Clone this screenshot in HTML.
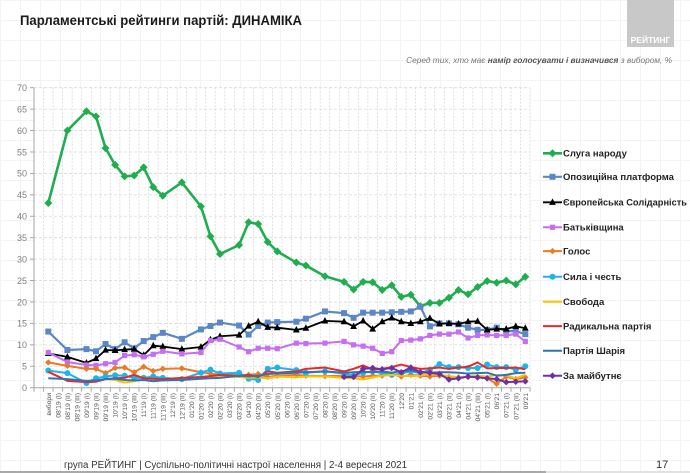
<!DOCTYPE html>
<html><head><meta charset="utf-8">
<style>
html,body{margin:0;padding:0;background:#fff;}
body{width:690px;height:473px;overflow:hidden;}
svg{display:block;font-family:"Liberation Sans","DejaVu Sans",sans-serif;}
</style></head>
<body>
<svg id="s" width="690" height="473" viewBox="0 0 690 473" xmlns="http://www.w3.org/2000/svg">
<rect x="0" y="0" width="690" height="473" fill="#fff"/>
<g id="bggrid"></g>
<!-- logo -->
<rect x="627" y="0" width="47" height="47" fill="#c8c8c8"/>
<text x="650.5" y="43" font-size="8.5" font-weight="bold" fill="#fff" text-anchor="middle">РЕЙТИНГ</text>
<!-- title -->
<text x="20" y="25" font-size="14" font-weight="bold" fill="#1a1a1a" textLength="282" lengthAdjust="spacingAndGlyphs">Парламентські рейтинги партій: ДИНАМІКА</text>
<text x="672" y="63" font-size="8.3" font-style="italic" fill="#777" text-anchor="end">Серед тих, хто має <tspan font-weight="bold" fill="#555">намір голосувати і визначився</tspan> з вибором, %</text>

<g id="grid"></g>
<g id="axes"></g>
<g id="series"></g>

<!-- y labels -->
<g font-size="9" fill="#7f7f7f" text-anchor="end">
<text x="27" y="391">0</text>
<text x="27" y="369.6">5</text>
<text x="27" y="348.2">10</text>
<text x="27" y="326.7">15</text>
<text x="27" y="305.3">20</text>
<text x="27" y="283.9">25</text>
<text x="27" y="262.4">30</text>
<text x="27" y="241">35</text>
<text x="27" y="219.6">40</text>
<text x="27" y="198.2">45</text>
<text x="27" y="176.7">50</text>
<text x="27" y="155.3">55</text>
<text x="27" y="133.9">60</text>
<text x="27" y="112.4">65</text>
<text x="27" y="91">70</text>
</g>

<!-- x labels -->
<g font-size="6.8" fill="#555" text-anchor="end">
<text transform="translate(50.8,393) rotate(-90)">вибори</text>
<text transform="translate(60.3,393) rotate(-90)">08'19 (I)</text>
<text transform="translate(69.9,393) rotate(-90)">08'19 (II)</text>
<text transform="translate(79.4,393) rotate(-90)">08'19 (III)</text>
<text transform="translate(89.0,393) rotate(-90)">09'19 (I)</text>
<text transform="translate(98.5,393) rotate(-90)">09'19 (II)</text>
<text transform="translate(108.0,393) rotate(-90)">09'19 (III)</text>
<text transform="translate(117.6,393) rotate(-90)">10'19 (I)</text>
<text transform="translate(127.1,393) rotate(-90)">10'19 (II)</text>
<text transform="translate(136.7,393) rotate(-90)">10'19 (III)</text>
<text transform="translate(146.2,393) rotate(-90)">11'19 (I)</text>
<text transform="translate(155.7,393) rotate(-90)">11'19 (II)</text>
<text transform="translate(165.3,393) rotate(-90)">11'19 (III)</text>
<text transform="translate(174.8,393) rotate(-90)">12'19 (I)</text>
<text transform="translate(184.4,393) rotate(-90)">12'19 (II)</text>
<text transform="translate(193.9,393) rotate(-90)">01'20 (I)</text>
<text transform="translate(203.4,393) rotate(-90)">01'20 (II)</text>
<text transform="translate(213.0,393) rotate(-90)">02'20 (I)</text>
<text transform="translate(222.5,393) rotate(-90)">02'20 (II)</text>
<text transform="translate(232.1,393) rotate(-90)">03'20 (I)</text>
<text transform="translate(241.6,393) rotate(-90)">03'20 (II)</text>
<text transform="translate(251.1,393) rotate(-90)">04'20 (I)</text>
<text transform="translate(260.7,393) rotate(-90)">04'20 (II)</text>
<text transform="translate(270.2,393) rotate(-90)">05'20 (I)</text>
<text transform="translate(279.8,393) rotate(-90)">05'20 (II)</text>
<text transform="translate(289.3,393) rotate(-90)">06'20 (I)</text>
<text transform="translate(298.8,393) rotate(-90)">06'20 (II)</text>
<text transform="translate(308.4,393) rotate(-90)">07'20 (I)</text>
<text transform="translate(317.9,393) rotate(-90)">07'20 (II)</text>
<text transform="translate(327.5,393) rotate(-90)">08'20 (I)</text>
<text transform="translate(337.0,393) rotate(-90)">08'20 (II)</text>
<text transform="translate(346.5,393) rotate(-90)">09'20 (I)</text>
<text transform="translate(356.1,393) rotate(-90)">09'20 (II)</text>
<text transform="translate(365.6,393) rotate(-90)">10'20 (I)</text>
<text transform="translate(375.2,393) rotate(-90)">10'20 (II)</text>
<text transform="translate(384.7,393) rotate(-90)">11'20 (I)</text>
<text transform="translate(394.2,393) rotate(-90)">11'20 (II)</text>
<text transform="translate(403.8,393) rotate(-90)">12'20</text>
<text transform="translate(413.3,393) rotate(-90)">01'21</text>
<text transform="translate(422.9,393) rotate(-90)">02'21 (I)</text>
<text transform="translate(432.4,393) rotate(-90)">02'21 (II)</text>
<text transform="translate(441.9,393) rotate(-90)">03'21 (I)</text>
<text transform="translate(451.5,393) rotate(-90)">03'21 (II)</text>
<text transform="translate(461.0,393) rotate(-90)">04'21 (I)</text>
<text transform="translate(470.6,393) rotate(-90)">04'21 (II)</text>
<text transform="translate(480.1,393) rotate(-90)">04'21 (III)</text>
<text transform="translate(489.6,393) rotate(-90)">05'21 (I)</text>
<text transform="translate(499.2,393) rotate(-90)">06'21</text>
<text transform="translate(508.7,393) rotate(-90)">07'21 (I)</text>
<text transform="translate(518.3,393) rotate(-90)">07'21 (II)</text>
<text transform="translate(527.8,393) rotate(-90)">09'21</text>
</g>

<!-- legend -->
<g id="legend"></g>
<g font-size="9.5" font-weight="bold" fill="#222">
<text x="563" y="156.6">Слуга народу</text>
<text x="563" y="180.1">Опозиційна платформа</text>
<text x="563" y="205.6" textLength="124" lengthAdjust="spacingAndGlyphs">Європейська Солідарність</text>
<text x="563" y="230.6">Батьківщина</text>
<text x="563" y="254.4">Голос</text>
<text x="563" y="280">Сила і честь</text>
<text x="563" y="305">Свобода</text>
<text x="563" y="329.4">Радикальна партія</text>
<text x="563" y="354">Партія Шарія</text>
<text x="563" y="379">За майбутнє</text>
</g>

<!-- footer -->
<text x="64" y="468" font-size="10" fill="#333" textLength="343" lengthAdjust="spacingAndGlyphs">група РЕЙТИНГ | Суспільно-політичні настрої населення  | 2-4 вересня 2021</text>
<text x="656" y="468" font-size="11" fill="#333">17</text>
<rect x="0" y="471" width="546" height="2" fill="#a9a9a9"/>
<rect x="546" y="471" width="144" height="2" fill="#e2e2e2"/>
</svg>
<script>
(function(){
var NS="http://www.w3.org/2000/svg";
function el(tag,attrs,parent){var e=document.createElementNS(NS,tag);for(var k in attrs)e.setAttribute(k,attrs[k]);parent.appendChild(e);return e;}
var X0=34, W=9.54, Y0=387.7, K=300/70;
function xi(i){return 48.3+W*i;}
function yv(v){return Y0-v*K;}
// faint background grid
var bg=document.getElementById('bggrid');
for(var gx=0;gx<690;gx+=20) el('line',{x1:gx+0.5,y1:0,x2:gx+0.5,y2:473,stroke:'#f3f3f3','stroke-width':1},bg);
for(var gy=0;gy<473;gy+=20) el('line',{x1:0,y1:gy+0.5,x2:690,y2:gy+0.5,stroke:'#f3f3f3','stroke-width':1},bg);
// plot white bg
var grid=document.getElementById('grid');
el('rect',{x:34,y:87,width:497,height:301,fill:'#fff'},grid);
// vertical gridlines
for(var k=1;k<=52;k++){var x=X0+k*W;el('line',{x1:x,y1:yv(70),x2:x,y2:Y0,stroke:'#d9d9d9','stroke-width':0.8,'stroke-dasharray':'2,1.5'},grid);}
// horizontal gridlines
for(var v=5;v<=70;v+=5){var y=yv(v);el('line',{x1:X0,y1:y,x2:X0+52*W,y2:y,stroke:'#d9d9d9','stroke-width':0.8,'stroke-dasharray':'3,2'},grid);}
var ax=document.getElementById('axes');
el('line',{x1:X0,y1:yv(70),x2:X0,y2:Y0,stroke:'#a6a6a6','stroke-width':1},ax);
el('line',{x1:X0,y1:Y0,x2:X0+52*W,y2:Y0,stroke:'#a6a6a6','stroke-width':1},ax);
for(var v=0;v<=70;v+=5){var y=yv(v);el('line',{x1:X0-4,y1:y,x2:X0,y2:y,stroke:'#a6a6a6','stroke-width':1},ax);}
for(var k=0;k<=52;k++){var x=X0+k*W;el('line',{x1:x,y1:Y0,x2:x,y2:Y0+4,stroke:'#a6a6a6','stroke-width':1},ax);}

var P=[0,2,4,5,6,7,8,9,10,11,12,14,16,17,18,20,21,22,23,24,26,27,29,31,32,33,34,35,36,37,38,39,40,41,42,43,44,45,46,47,48,49,50];
function mk(vals,start){var o={};var idx=P.filter(function(i){return i>=(start||0);});for(var j=0;j<idx.length;j++)o[idx[j]]=vals[j];return o;}
var S=[
 {c:'#1fad4f',w:2.6,m:'diamond',r:4.0,d:mk([43.1,60.0,64.5,63.3,55.9,52.0,49.3,49.5,51.4,46.8,44.8,47.9,42.3,35.3,31.2,33.3,38.6,38.2,34.0,31.8,29.2,28.5,26.0,24.7,22.9,24.7,24.6,22.8,23.9,21.2,21.7,19.0,19.8,19.8,21.0,22.8,21.8,23.5,24.9,24.5,25.0,24.1,25.9])},
 {c:'#5b87c6',w:2.2,m:'square',r:3.0,d:mk([13.1,8.8,9.0,8.5,10.2,9.0,10.6,9.2,10.9,11.8,12.8,11.4,13.6,14.4,15.2,14.5,12.4,14.4,15.2,15.3,15.4,16.1,17.8,17.4,16.3,17.5,17.5,17.5,17.6,17.7,17.8,18.9,14.3,15.0,15.0,14.8,14.0,13.5,13.5,14.0,13.2,13.2,12.5])},
 {c:'#000',w:1.8,m:'tri',r:3.4,d:mk([8.0,7.2,5.8,6.8,8.8,8.7,8.9,9.0,7.6,9.8,9.6,9.0,9.5,11.2,12.0,12.3,14.4,15.4,14.1,14.0,13.5,13.9,15.6,15.4,14.3,15.6,13.7,15.4,16.3,15.4,15.0,15.4,16.2,14.9,15.0,14.9,15.4,15.5,13.5,13.7,13.7,14.3,13.9])},
 {c:'#c46ef0',w:2.0,m:'square',r:2.6,d:mk([8.2,6.0,5.3,5.2,5.6,5.9,7.5,7.7,7.2,7.8,8.5,7.9,8.2,11.0,11.3,9.5,8.4,9.2,9.2,9.1,10.4,10.3,10.4,10.8,10.0,9.7,9.2,8.0,8.4,11.0,11.1,11.4,12.2,12.5,12.5,13.0,11.6,12.2,12.3,12.2,12.2,12.5,10.8])},
 {c:'#e97b25',w:2.0,m:'diamond',r:3.2,d:mk([5.9,5.1,4.4,4.4,3.4,4.6,4.7,3.6,4.9,3.9,4.4,4.5,3.6,3.3,3.0,3.0,3.0,3.2,2.5,2.8,3.0,2.8,2.7,2.8,2.7,2.6,2.8,2.8,3.1,2.6,3.0,2.8,2.6,2.8,2.5,2.4,2.5,2.5,2.2,0.9,2.6,2.0,2.4])},
 {c:'#1cb4ea',w:2.0,m:'circle',r:3.0,d:mk([4.0,3.4,1.1,2.2,2.6,2.9,2.8,2.3,2.3,2.6,2.3,2.0,3.5,4.2,3.3,3.5,2.1,1.8,4.4,4.7,4.1,3.5,3.8,3.3,2.8,3.5,3.8,3.4,3.0,3.3,3.8,3.4,4.2,5.5,4.8,4.8,4.6,4.6,5.4,4.8,4.8,4.2,5.0])},
 {c:'#ffc000',w:2.0,m:null,d:mk([1.6,1.5,2.0,1.8,1.2,1.5,1.9,1.8,1.7,2.0,2.3,2.5,2.6,2.5,2.3,2.4,2.2,2.6,2.4,2.6,2.6,2.3,2.2,1.9,2.4,2.8,3.0,2.8,2.7,2.8,3.2,3.0,2.7,2.4,2.6,2.8,2.6,3.0,2.9,2.2,3.0],4)},
 {c:'#e8282b',w:2.0,m:null,d:mk([3.7,1.6,1.3,1.4,2.0,2.2,2.3,3.0,2.2,2.1,2.0,2.3,2.5,2.7,3.0,2.7,3.0,2.5,3.8,3.5,3.8,4.4,4.7,3.8,4.4,5.2,4.2,4.4,4.8,5.4,4.8,4.4,4.5,4.7,4.4,4.7,4.9,5.9,4.5,4.6,4.6,4.7,4.3])},
 {c:'#2e75b6',w:2.0,m:null,d:mk([2.2,2.0,1.6,1.7,2.0,2.1,1.8,1.7,1.8,1.5,1.7,1.8,2.1,2.2,2.3,2.8,2.6,2.8,3.2,3.3,3.5,3.6,3.8,3.5,3.6,3.7,3.6,3.8,3.5,3.9,4.0,3.7,3.5,3.6,3.6,3.5,3.3,3.4,3.5,2.8,3.0,3.4,3.5])},
 {c:'#7030a0',w:2.0,m:'diamond',r:3.3,d:mk([2.5,2.5,4.4,4.6,4.3,4.6,3.6,4.7,3.6,3.5,3.2,1.9,2.2,2.6,2.4,2.2,2.0,1.3,1.4,1.5],31)}
];
var G=document.getElementById('series');
function marker(type,x,y,r,c,parent){
 if(type==='diamond')el('polygon',{points:(x)+','+(y-r)+' '+(x+r)+','+y+' '+x+','+(y+r)+' '+(x-r)+','+y,fill:c},parent);
 else if(type==='square')el('rect',{x:x-r,y:y-r,width:2*r,height:2*r,fill:c},parent);
 else if(type==='tri')el('polygon',{points:x+','+(y-r-0.5)+' '+(x+r)+','+(y+r-0.8)+' '+(x-r)+','+(y+r-0.8),fill:c},parent);
 else if(type==='circle')el('circle',{cx:x,cy:y,r:r,fill:c},parent);
}
S.forEach(function(s){
 var keys=Object.keys(s.d).map(Number).sort(function(a,b){return a-b;});
 var pts=keys.map(function(i){return xi(i).toFixed(2)+','+yv(s.d[i]).toFixed(2);}).join(' ');
 el('polyline',{points:pts,fill:'none',stroke:s.c,'stroke-width':s.w,'stroke-linejoin':'round'},G);
 if(s.m)keys.forEach(function(i){marker(s.m,xi(i),yv(s.d[i]),s.r,s.c,G);});
});
// legend samples
var L=document.getElementById('legend');
var ly=[153.3,176.8,202.3,227.3,251.1,276.7,301.7,326.1,350.7,375.7];
S.forEach(function(s,j){
 el('line',{x1:543,y1:ly[j],x2:562,y2:ly[j],stroke:s.c,'stroke-width':s.w},L);
 if(s.m)marker(s.m,552.5,ly[j],s.r,s.c,L);
});
})();
</script>
</body></html>
